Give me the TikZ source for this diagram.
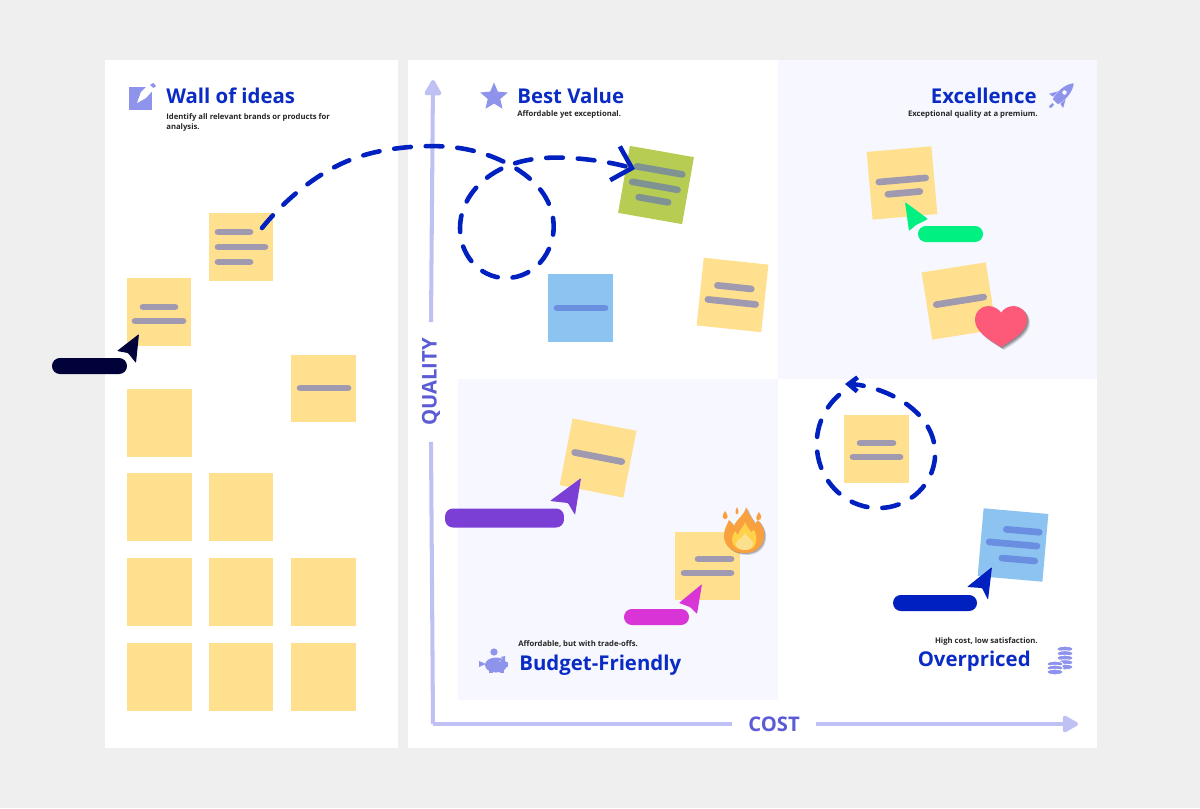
\documentclass[tikz,border=0pt]{standalone}
\usepackage{fontspec}
\setmainfont{Open Sans}
\usepackage{tikz}
\usetikzlibrary{arrows.meta,hobby,shapes.geometric}
\definecolor{pagegrey}{HTML}{EFEFEF}
\definecolor{shadepanel}{HTML}{F6F7FF}
\definecolor{noteyellow}{HTML}{FFE08F}
\definecolor{noteblue}{HTML}{8CC3F0}
\definecolor{noteolive}{HTML}{B7CC52}
\definecolor{baryellow}{HTML}{A09AB0}
\definecolor{barblue}{HTML}{6B8FE0}
\definecolor{barolive}{HTML}{7F9393}
\definecolor{titleblue}{HTML}{0A2BC4}
\definecolor{pathblue}{HTML}{0020C0}
\definecolor{axislight}{HTML}{BFC1F5}
\definecolor{axisdark}{HTML}{5B5BD6}
\definecolor{iconblue}{HTML}{8E93EC}
\definecolor{cursornavy}{HTML}{02023A}
\definecolor{cursorgreen}{HTML}{00F082}
\definecolor{cursorpurple}{HTML}{7B3FD6}
\definecolor{cursorpink}{HTML}{D834D6}
\definecolor{heartred}{HTML}{FC5A78}
\definecolor{flameorange}{HTML}{F9A03F}
\definecolor{flameyellow}{HTML}{FFD24A}
\definecolor{flamepale}{HTML}{FBE08E}
\tikzset{
    stickynote/.style={minimum width=1.3cm,minimum height=1.36cm,inner sep=0pt,fill=noteyellow},
    notebar/.style={line width=3.8pt,line cap=round,baryellow},
    namebar/.style={minimum height=0.32cm,inner sep=0pt,rounded corners=4.5pt},
    headtext/.style={inner sep=0pt,font=\bfseries\fontsize{11.6}{14}\selectfont,text=titleblue},
    subtext/.style={inner sep=0pt,font=\bfseries\fontsize{4.38}{5.8}\selectfont,text=black!85,align=left},
    axislabel/.style={inner xsep=9pt,inner ysep=0pt,font=\bfseries\fontsize{11.5}{13}\selectfont,text=axisdark},
    axisline/.style={line width=2.3pt,axislight},
    dashflow/.style={line width=2.6pt,line cap=round,pathblue,dash pattern=on 9.5pt off 8.5pt},
}
\begin{document}
\begin{tikzpicture}[x=0.02cm,y=-0.02cm]
    \fill[pagegrey] (0,0) rectangle (1200,808);
    \fill[white] (105,60) rectangle (398,748);
    \fill[white] (408,60) rectangle (1097,748);
    \fill[shadepanel] (778,60) rectangle (1097,379);
    \fill[shadepanel] (458,379) rectangle (778,700);

    \coordinate (origin) at (433,724);
    \coordinate (qualitytop) at (433,80);
    \coordinate (costend) at (1078,724);
    \node[axislabel,rotate=90] (qualitylabel) at (431,382) {QUALITY};
    \node[axislabel] (costlabel) at (774,724) {COST};
    \draw[axisline] (origin) -- (qualitylabel.west);
    \draw[axisline,-{Triangle[length=10pt,width=10.5pt,round]}] (qualitylabel.east) -- (qualitytop);
    \draw[axisline] (origin) -- (costlabel.west);
    \draw[axisline,-{Triangle[length=10pt,width=10.5pt,round]}] (costlabel.east) -- (costend);

    \node[headtext,anchor=west] (wallhead) at (166,96) {Wall of ideas};
    \node[subtext,anchor=north west] (wallsub) at (166,113) {Identify all relevant brands or products for\\analysis.};
    \node[headtext,anchor=west] (besthead) at (517,95.5) {Best Value};
    \node[subtext,anchor=west] (bestsub) at (517,114) {Affordable yet exceptional.};
    \node[headtext,anchor=east] (excellencehead) at (1037,95.5) {Excellence};
    \node[subtext,anchor=east] (excellencesub) at (1038,114) {Exceptional quality at a premium.};
    \node[subtext,anchor=west] (budgetsub) at (518,644) {Affordable, but with trade-offs.};
    \node[headtext,anchor=west] (budgethead) at (519,665) {Budget-Friendly};
    \node[subtext,anchor=east] (overpricedsub) at (1038,641) {High cost, low satisfaction.};
    \node[headtext,anchor=east] (overpricedhead) at (1031,661) {Overpriced};

    \fill[iconblue] (129,87) rectangle (152,110);
    \fill[white] (137,103) -- (141,92) -- (149,84) -- (154,89) -- (146,98) -- cycle;
    \fill[iconblue] (150,85) -- (153,83) -- (156,86) -- (153.5,88) -- cycle;
    \node[star,star points=5,star point ratio=2.2,fill=iconblue,minimum size=0.58cm,inner sep=0pt] (staricon) at (494,97) {};

    \begin{scope}[shift={(1061,96)},rotate=-45]
        \fill[iconblue] (0,-18) .. controls (6,-11) and (6,1) .. (3.5,8) -- (-3.5,8) .. controls (-6,1) and (-6,-11) .. (0,-18);
        \fill[iconblue] (-5.5,-1) -- (-10,7) -- (-5,6);
        \fill[iconblue] (5.5,-1) -- (10,7) -- (5,6);
        \draw[iconblue,line width=1.4pt] (0,11) -- (0,16);
        \fill[white] (0,-5) circle (2.2);
    \end{scope}

    \fill[iconblue] (496,665) ellipse (11 and 7.5);
    \fill[iconblue] (494,652) circle (3.6);
    \fill[iconblue] (489,669) rectangle (493,673);
    \fill[iconblue] (500,669) rectangle (504,673);
    \fill[iconblue] (501,657) -- (505,656) -- (505,662) -- cycle;
    \fill[iconblue] (505,662) rectangle (508,667);
    \fill[iconblue] (479,661) -- (486,664) -- (479,667) -- cycle;
    \fill[white] (500,661) circle (0.7);

    \foreach \coiny in {649,653.5,658,662.5,667}
        \draw[white,line width=0.5pt,fill=iconblue] (1065,\coiny) ellipse (8 and 2.8);
    \foreach \coiny in {664,668,672}
        \draw[white,line width=0.5pt,fill=iconblue] (1055,\coiny) ellipse (8 and 2.8);

    \node[stickynote] (wallone) at (159,312) {};
    \draw[notebar] (143,307) -- (175,307);
    \draw[notebar] (135,321) -- (183,321);
    \node[stickynote] (walltwo) at (241,247) {};
    \draw[notebar] (218,232) -- (250,232);
    \draw[notebar] (218,247) -- (265,247);
    \draw[notebar] (218,262) -- (250,262);
    \node[stickynote] (wallthree) at (323.5,388.5) {};
    \draw[notebar] (300,388) -- (348,388);
    \node[stickynote] (blankone) at (159.5,423) {};
    \foreach \notex/\notey/\notename in {159.5/507/blanktwo,241/507/blankthree,159.5/592/blankfour,241/592/blankfive,323.5/592/blanksix,159.5/677/blankseven,241/677/blankeight,323.5/677/blanknine}
        \node[stickynote] (\notename) at (\notex,\notey) {};

    \node[stickynote,fill=noteblue] (bluebest) at (580.5,308) {};
    \draw[notebar,barblue] (557,308) -- (605,308);

    \begin{scope}[shift={(656,185)},rotate=-10,transform shape]
        \node[stickynote,fill=noteolive] (olivenote) at (0,0) {};
        \draw[notebar,barolive] (-22,-15) -- (24,-15);
        \draw[notebar,barolive] (-24,1) -- (22,1);
        \draw[notebar,barolive] (-15,15) -- (15,15);
    \end{scope}
    \begin{scope}[shift={(732.5,295)},rotate=-6,transform shape]
        \node[stickynote] (yellowbest) at (0,0) {};
        \draw[notebar] (-16,-8) -- (18,-8);
        \draw[notebar] (-24,7) -- (24,7);
    \end{scope}
    \begin{scope}[shift={(902,183)},rotate=5,transform shape]
        \node[stickynote] (excellenceone) at (0,0) {};
        \draw[notebar] (-23,-3) -- (24,-3);
        \draw[notebar] (-15,10) -- (17,10);
    \end{scope}
    \begin{scope}[shift={(959,301)},rotate=9,transform shape]
        \node[stickynote] (excellencetwo) at (0,0) {};
        \draw[notebar] (-23,0) -- (25,0);
    \end{scope}
    \begin{scope}[shift={(598,458)},rotate=-11,transform shape]
        \node[stickynote] (budgetone) at (0,0) {};
        \draw[notebar] (-24,-1) -- (24,-1);
    \end{scope}
    \node[stickynote] (budgettwo) at (707,566) {};
    \draw[notebar] (698,559) -- (731,559);
    \draw[notebar] (684,573) -- (731,573);
    \node[stickynote] (overpricedone) at (876,449) {};
    \draw[notebar] (860,443) -- (893,443);
    \draw[notebar] (853,457) -- (900,457);
    \begin{scope}[shift={(1013,545)},rotate=-5,transform shape]
        \node[stickynote,fill=noteblue] (overpricedtwo) at (0,0) {};
        \draw[notebar,barblue] (-8,-15) -- (25,-15);
        \draw[notebar,barblue] (-24,-1) -- (24,-1);
        \draw[notebar,barblue] (-10,14) -- (23,14);
    \end{scope}

    \foreach \softx/\softop in {1/0.2,2/0.2,3/0.12}
        \fill[black,opacity=\softop,shift={(\softx,\softx)}] (1001,347) .. controls (990,340) and (975,332) .. (975,320) .. controls (975,311) and (982,306) .. (988,306) .. controls (994,306) and (999,309) .. (1001,313) .. controls (1003,309) and (1008,306) .. (1014,306) .. controls (1020,306) and (1027,311) .. (1027,320) .. controls (1027,332) and (1012,340) .. (1001,347);
    \fill[heartred] (1001,347) .. controls (990,340) and (975,332) .. (975,320) .. controls (975,311) and (982,306) .. (988,306) .. controls (994,306) and (999,309) .. (1001,313) .. controls (1003,309) and (1008,306) .. (1014,306) .. controls (1020,306) and (1027,311) .. (1027,320) .. controls (1027,332) and (1012,340) .. (1001,347);

    \foreach \softx/\softop in {1/0.2,2/0.15}
        \fill[black,opacity=\softop,shift={(\softx,\softx)}] (746,507) .. controls (748,514) and (753,519) .. (755,524) .. controls (756,522) and (757,521) .. (758,520) .. controls (762,525) and (765,530) .. (764,537) .. controls (763,547) and (755,553) .. (745,553) .. controls (734,553) and (724,547) .. (724,536) .. controls (724,529) and (727,525) .. (729,520) .. controls (731,522) and (733,524) .. (734,526) .. controls (737,518) and (745,515) .. (746,507);
    \fill[flameorange] (746,507) .. controls (748,514) and (753,519) .. (755,524) .. controls (756,522) and (757,521) .. (758,520) .. controls (762,525) and (765,530) .. (764,537) .. controls (763,547) and (755,553) .. (745,553) .. controls (734,553) and (724,547) .. (724,536) .. controls (724,529) and (727,525) .. (729,520) .. controls (731,522) and (733,524) .. (734,526) .. controls (737,518) and (745,515) .. (746,507);
    \fill[flameorange] (725,511) .. controls (728,515) and (729,519) .. (725,519) .. controls (722,519) and (722,515) .. (725,511);
    \fill[flameorange] (737,507) .. controls (739,511) and (739,514) .. (737,514) .. controls (735,514) and (735,511) .. (737,507);
    \fill[flameorange] (759,512) .. controls (762,516) and (762,520) .. (758,520) .. controls (755,520) and (756,516) .. (759,512);
    \fill[flameyellow] (745,522) .. controls (747,527) and (750,530) .. (751,532) .. controls (752,531) and (753,530) .. (754,530) .. controls (756,534) and (757,538) .. (756,542) .. controls (755,548) and (750,550) .. (745,550) .. controls (738,550) and (732,546) .. (732,540) .. controls (732,537) and (733,534) .. (735,531) .. controls (736,533) and (737,534) .. (738,535) .. controls (739,530) and (744,527) .. (745,522);
    \fill[flamepale] (745,533) .. controls (747,537) and (753,540) .. (753,544) .. controls (753,548) and (749,550) .. (745,550) .. controls (740,550) and (736,548) .. (736,544) .. controls (736,540) and (743,538) .. (745,533);

    \coordinate (ideastart) at (262,228);
    \coordinate (ideaone) at (300,190);
    \coordinate (ideatwo) at (350,160);
    \coordinate (ideathree) at (410,147);
    \coordinate (ideafour) at (470,150);
    \coordinate (crossing) at (510,165);
    \coordinate (loopright) at (552,213);
    \coordinate (loopbottom) at (505,278);
    \coordinate (loopleft) at (460,228);
    \coordinate (ideafive) at (570,158);
    \coordinate (ideaend) at (635,169);
    \draw[dashflow,use Hobby shortcut,-{Straight Barb[length=10pt,width=20pt]}] (ideastart) .. (ideaone) .. (ideatwo) .. (ideathree) .. (ideafour) .. (crossing) .. (loopright) .. (loopbottom) .. (loopleft) .. (crossing) .. (ideafive) .. (ideaend);

    \coordinate (ringstart) at (839,395);
    \coordinate (ringleft) at (817,450);
    \coordinate (ringbottom) at (876,508);
    \coordinate (ringright) at (935,450);
    \coordinate (ringupper) at (893,396);
    \coordinate (ringend) at (845,384);
    \draw[dashflow,use Hobby shortcut,-{Straight Barb[length=5pt,width=8pt]}] (ringstart) .. (ringleft) .. (ringbottom) .. (ringright) .. (ringupper) .. (ringend);

    \node[namebar,fill=cursornavy,minimum width=1.5cm] (navybar) at (89.5,366) {};
    \fill[cursornavy,rounded corners=0.5pt] (139,334) -- (117,351) -- (128,353) -- (136,363) -- cycle;
    \node[namebar,fill=cursorgreen,minimum width=1.3cm] (greenbar) at (950.5,234) {};
    \fill[cursorgreen,rounded corners=0.5pt] (905,202) -- (928,219) -- (916,225) -- (909,231) -- cycle;
    \node[namebar,fill=cursorpurple,minimum width=2.38cm,minimum height=0.38cm] (purplebar) at (504.5,518) {};
    \fill[cursorpurple,rounded corners=0.5pt] (581,478) -- (550,501) -- (568,503) -- (575,515) -- cycle;
    \node[namebar,fill=cursorpink,minimum width=1.3cm] (pinkbar) at (656.5,617) {};
    \fill[cursorpink,rounded corners=0.5pt] (702,584) -- (679,603) -- (690,607) -- (697,614) -- cycle;
    \node[namebar,fill=pathblue,minimum width=1.68cm] (bluebar) at (935,603) {};
    \fill[pathblue,rounded corners=0.5pt] (992,567) -- (967,587) -- (982,588) -- (988,600) -- cycle;
\end{tikzpicture}
\end{document}
